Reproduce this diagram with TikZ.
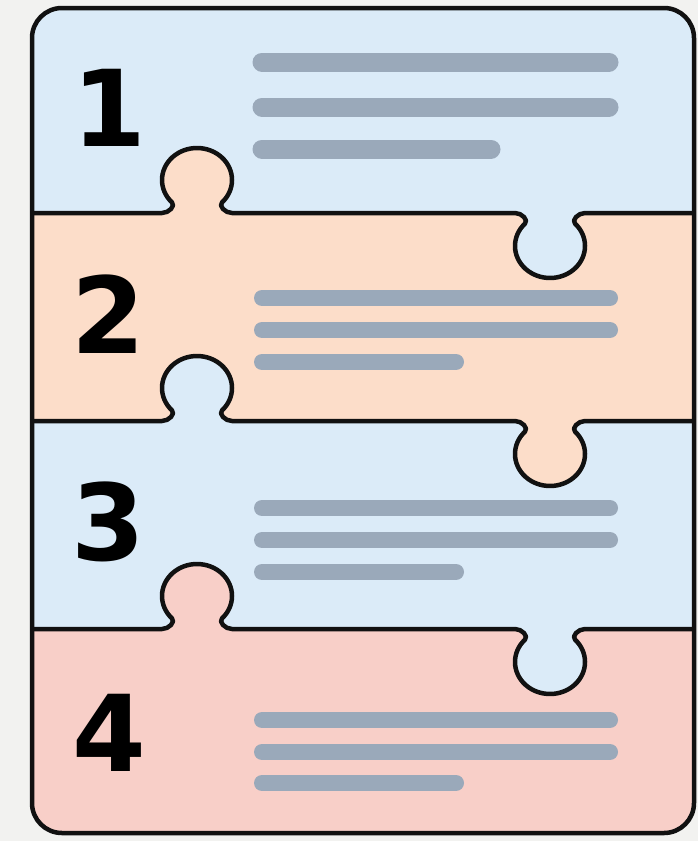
\documentclass[tikz,border=0pt]{standalone}
\usepackage{fontspec}
\newfontfamily\numfont{DejaVu Sans}[BoldFont={DejaVu Sans Bold}]
\definecolor{paper}{HTML}{F2F2F0}
\definecolor{skyfill}{HTML}{DBEBF8}
\definecolor{peachfill}{HTML}{FCDDC9}
\definecolor{rosefill}{HTML}{F8CFC8}
\definecolor{barc}{HTML}{9AA9BA}
\definecolor{edge}{HTML}{111111}

% One horizontal puzzle seam at height #1: a tab rising near the left,
% a tab hanging near the right.
\newcommand\seampath[1]{%
  (0,#1) -- (162,#1)
  .. controls (169,#1) and (175.65,{#1-7.2}) .. (172,{#1-10.6})
  arc[start angle=135.6, end angle=404.4, x radius=35, y radius=32]
  .. controls (218.35,{#1-7.2}) and (225,#1) .. (232,#1)
  -- (515,#1)
  .. controls (522,#1) and (528.65,{#1+7.2}) .. (525,{#1+10.6})
  arc[start angle=224.4, end angle=-44.4, x radius=35, y radius=32]
  .. controls (571.35,{#1+7.2}) and (578,#1) .. (585,#1)
  -- (720,#1)}

\begin{document}
\begin{tikzpicture}[x=1pt,y=-1pt,
  frame/.style={draw=edge, line width=4.5pt, rounded corners=30pt},
  seam/.style={draw=edge, line width=4.5pt, line join=round},
  textbar/.style={draw=barc, line cap=round, line width=16pt},
  topbar/.style={draw=barc, line cap=round, line width=19pt},
  num/.style={font=\numfont\bfseries\fontsize{106}{106}\selectfont, text=black, inner sep=0pt}]
  \useasboundingbox[fill=paper] (0,0) rectangle (698,841);

  \begin{scope}
    \clip[rounded corners=30pt] (32,8) rectangle (694,833);
    \fill[skyfill] (0,0) rectangle (720,860);
    \fill[peachfill] \seampath{213} -- (720,860) -- (0,860) -- cycle;
    \fill[skyfill]   \seampath{421} -- (720,860) -- (0,860) -- cycle;
    \fill[rosefill]  \seampath{629} -- (720,860) -- (0,860) -- cycle;
    \draw[seam] \seampath{213};
    \draw[seam] \seampath{421};
    \draw[seam] \seampath{629};
  \end{scope}
  \draw[frame] (32,8) rectangle (694,833);

  % step numbers
  \node[num] (n1) at (109,108) {1};
  \node[num] (n2) at (108,314) {2};
  \node[num] (n3) at (108,522) {3};
  \node[num] (n4) at (109,733) {4};

  % placeholder text lines
  \draw[topbar] (262,62) -- (609,62);
  \draw[topbar] (262,107) -- (609,107);
  \draw[topbar] (262,149) -- (491,149);

  \draw[textbar] (262,298) -- (610,298);
  \draw[textbar] (262,330) -- (610,330);
  \draw[textbar] (262,362) -- (456,362);

  \draw[textbar] (262,508) -- (610,508);
  \draw[textbar] (262,540) -- (610,540);
  \draw[textbar] (262,572) -- (456,572);

  \draw[textbar] (262,720) -- (610,720);
  \draw[textbar] (262,752) -- (610,752);
  \draw[textbar] (262,783) -- (456,783);
\end{tikzpicture}
\end{document}
